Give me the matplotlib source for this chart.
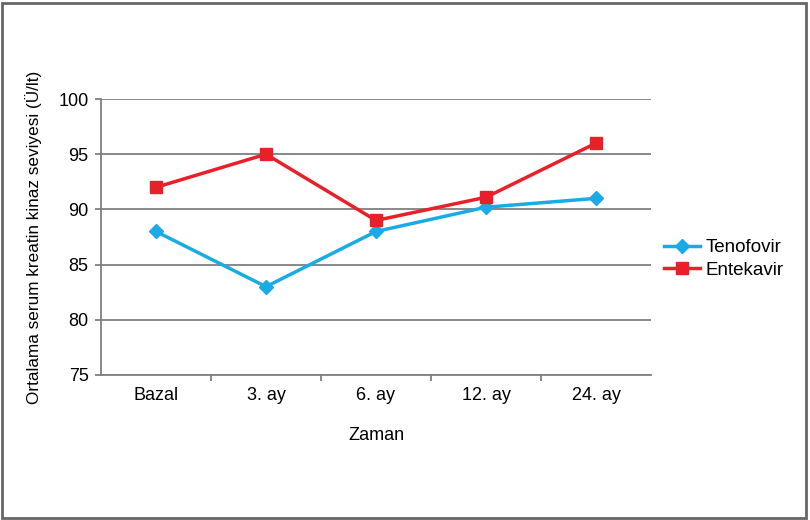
import matplotlib
matplotlib.use('Agg')
import matplotlib.pyplot as plt
from matplotlib.patches import Rectangle

plt.rcParams['font.family'] = ['Liberation Sans', 'DejaVu Sans']

zaman = ['Bazal', '3. ay', '6. ay', '12. ay', '24. ay']
tenofovir = [88, 83, 88, 90.2, 91]
entekavir = [92, 95, 89, 91.1, 96]

BLUE = '#1aabe6'
RED = '#e8202a'
GRID = '#7f7f7f'

fig = plt.figure(figsize=(8.1, 5.2), dpi=100)
ax = fig.add_axes([101/810, 1 - 375/520, 550/810, 276/520])

x = list(range(len(zaman)))
ax.plot(x, tenofovir, color=BLUE, lw=2.5, marker='D', ms=7, label='Tenofovir')
ax.plot(x, entekavir, color=RED, lw=2.5, marker='s', ms=8, label='Entekavir')

ax.set_xlim(-0.5, len(zaman) - 0.5)
ax.set_ylim(75, 100)
ax.set_yticks(range(75, 101, 5))
ax.set_xticks(x)
ax.set_xticklabels(zaman)
ax.set_xticks([i + 0.5 for i in range(len(zaman) - 1)], minor=True)
ax.tick_params(axis='x', which='major', length=0, pad=9, labelsize=13)
ax.tick_params(axis='x', which='minor', length=4, color=GRID, width=1.3, direction='out')
ax.tick_params(axis='y', length=4, color=GRID, width=1.3, pad=5, labelsize=13)
ax.grid(axis='y', color=GRID, lw=1.3)
ax.set_axisbelow(True)
for s in ['top', 'right']:
    ax.spines[s].set_visible(False)
for s in ['left', 'bottom']:
    ax.spines[s].set_color(GRID)
    ax.spines[s].set_linewidth(1.3)

ax.set_xlabel('Zaman', fontsize=13, labelpad=16)
ax.set_ylabel('Ortalama serum kreatin kinaz seviyesi (Ü/lt)', fontsize=12.3, labelpad=12)

ax.legend(loc='center left', bbox_to_anchor=(1.0, 0.42), frameon=False,
          fontsize=13.5, handlelength=1.9, handletextpad=0.3, labelspacing=0.3,
          borderaxespad=0.3)

fig.patches.append(Rectangle((0.002, 0.004), 0.993, 0.99, transform=fig.transFigure,
                             fill=False, edgecolor='#666666', lw=2))

fig.savefig('out.png', dpi=100)
